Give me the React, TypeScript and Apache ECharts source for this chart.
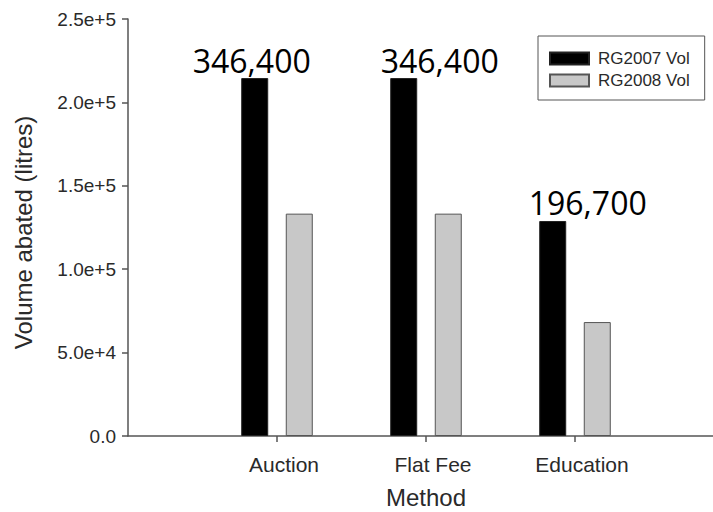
import React, { useEffect, useRef } from "react";
import * as echarts from "echarts";

const categories = ["", "Auction", "Flat Fee", "Education", ""];
const rg2007 = [214600, 214600, 128900];
const rg2008 = [133300, 133300, 68300];
const rg2007Labels = ["346,400", "346,400", "196,700"];
const yTicks = [0, 50000, 100000, 150000, 200000, 250000];
const seriesNames = ["RG2007 Vol", "RG2008 Vol"];
const xTitle = "Method";
const yTitle = "Volume abated (litres)";

const labelOffsets = [
  [-3, 0],
  [36, 0],
  [35, 0],
];

const fmtY = (v: number) => (v === 0 ? "0.0" : v.toExponential(1));

export default function App() {
  const ref = useRef<HTMLDivElement>(null);
  useEffect(() => {
    if (!ref.current) return;
    const chart = echarts.init(ref.current, null, { renderer: "svg" });
    const axisColor = "#555";
    const textColor = "#2a2a2a";
    const font = "Liberation Sans, Arial, sans-serif";
    const blackData: any[] = ["-"];
    rg2007.forEach((v, i) => {
      blackData.push({
        value: v,
        label: {
          show: true,
          formatter: rg2007Labels[i],
          offset: labelOffsets[i],
        },
      });
    });
    blackData.push("-");
    const grayData: any[] = ["-", ...rg2008, "-"];
    chart.setOption({
      animation: false,
      backgroundColor: "#fff",
      grid: {
        left: 128,
        top: 19,
        width: 596,
        height: 417,
        containLabel: false,
        outerBoundsMode: "none",
      },
      legend: {
        orient: "vertical",
        left: 538,
        top: 36,
        padding: [14, 15, 11, 11],
        itemWidth: 39,
        itemHeight: 12,
        itemGap: 5,
        icon: "rect",
        borderColor: axisColor,
        borderWidth: 1,
        data: seriesNames,
        textStyle: {
          fontFamily: font,
          fontSize: 17,
          color: textColor,
          padding: [0, 0, 0, 4],
        },
      },
      xAxis: {
        type: "category",
        data: categories,
        boundaryGap: false,
        name: xTitle,
        nameLocation: "middle",
        nameGap: 49,
        nameTextStyle: { fontFamily: font, fontSize: 24, color: textColor },
        axisLine: { lineStyle: { color: axisColor, width: 1.5 } },
        axisTick: {
          show: true,
          length: 6,
          interval: (i: number) => i > 0 && i < categories.length - 1,
          lineStyle: { color: axisColor, width: 1.5 },
        },
        axisLabel: {
          fontFamily: font,
          fontSize: 21,
          color: textColor,
          margin: 18,
          interval: 0,
          padding: [0, 0, 0, 14],
        },
        splitLine: { show: false },
      },
      yAxis: {
        type: "value",
        min: 0,
        max: yTicks[yTicks.length - 1],
        interval: yTicks[1] - yTicks[0],
        name: yTitle,
        nameLocation: "middle",
        nameGap: 93,
        nameRotate: 90,
        nameTextStyle: {
          fontFamily: font,
          fontSize: 24,
          color: textColor,
          padding: [0, 10, 0, 0],
        },
        axisLine: { show: true, lineStyle: { color: axisColor, width: 1.5 } },
        axisTick: { show: true, length: 6, lineStyle: { color: axisColor, width: 1.5 } },
        axisLabel: {
          fontFamily: font,
          fontSize: 19,
          color: textColor,
          margin: 12,
          formatter: fmtY,
        },
        splitLine: { show: false },
      },
      series: [
        {
          name: seriesNames[0],
          type: "bar",
          data: blackData,
          barWidth: 27,
          barGap: "65%",
          itemStyle: { color: "#000", borderColor: "#222", borderWidth: 1 },
          label: {
            show: false,
            position: "top",
            distance: 2,
            fontFamily: "Open Sans, sans-serif",
            fontSize: 32,
            color: "#000",
          },
        },
        {
          name: seriesNames[1],
          type: "bar",
          data: grayData,
          barWidth: 27,
          barGap: "65%",
          itemStyle: { color: "#c8c8c8", borderColor: "#555", borderWidth: 1 },
        },
      ],
    });
    return () => chart.dispose();
  }, []);
  return (
    <div
      ref={ref}
      style={{ position: "fixed", left: 0, top: 0, width: 713, height: 512 }}
    />
  );
}
